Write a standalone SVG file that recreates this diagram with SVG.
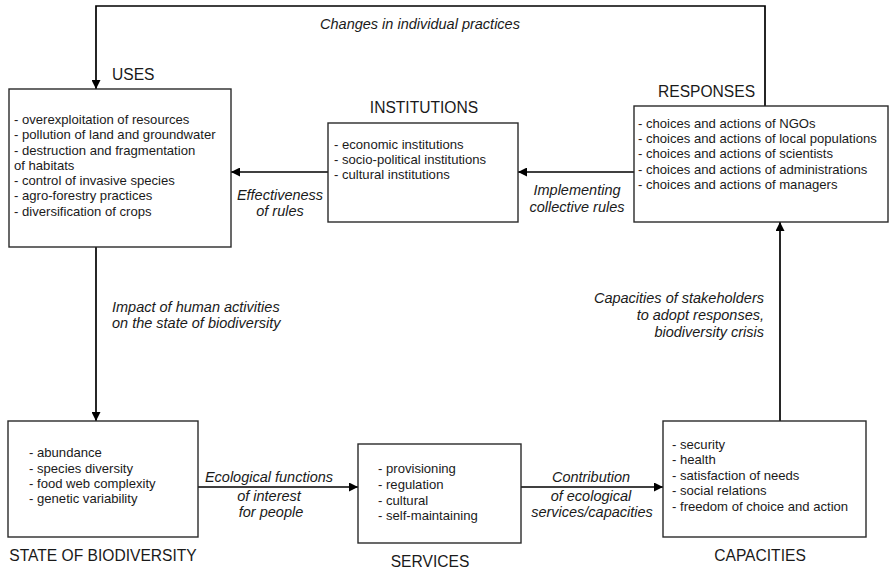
<svg xmlns="http://www.w3.org/2000/svg" width="889" height="571" viewBox="0 0 889 571">
  <style>
    .box { fill: #ffffff; stroke: #2a2a2a; stroke-width: 1.4; }
    .title { font-family: "Liberation Sans", Arial, sans-serif; font-size: 15.6px; fill: #1a1a1a; }
    .item { font-family: "Liberation Sans", Arial, sans-serif; font-size: 13.1px; fill: #1a1a1a; }
    .lbl { font-family: "Liberation Sans", Arial, sans-serif; font-size: 14.5px; font-style: italic; fill: #1a1a1a; }
    .link { fill: none; stroke: #000000; stroke-width: 1.7; marker-end: url(#head); }
  </style>
  <defs>
    <marker id="head" viewBox="0 0 10 10" refX="10" refY="5" markerUnits="userSpaceOnUse" markerWidth="9" markerHeight="9" orient="auto">
      <path d="M0,0 L10,5 L0,10 Z" fill="#000000"/>
    </marker>
  </defs>

  <!-- connectors -->
  <g id="connectors">
    <path class="link" d="M765,106 V6 H96 V89"/>
    <path class="link" d="M328,172 H231"/>
    <path class="link" d="M634,172 H518"/>
    <path class="link" d="M96,247 V421"/>
    <path class="link" d="M198,487 H358"/>
    <path class="link" d="M521,487 H663"/>
    <path class="link" d="M780,421 V222"/>
    <text class="lbl" x="420" y="29" text-anchor="middle">Changes in individual practices</text>
    <text class="lbl" x="280" y="200" text-anchor="middle">Effectiveness</text>
    <text class="lbl" x="280" y="216" text-anchor="middle">of rules</text>
    <text class="lbl" x="577" y="195" text-anchor="middle">Implementing</text>
    <text class="lbl" x="577" y="212" text-anchor="middle">collective rules</text>
    <text class="lbl" x="112" y="312">Impact of human activities</text>
    <text class="lbl" x="112" y="328">on the state of biodiversity</text>
    <text class="lbl" x="764" y="303" text-anchor="end">Capacities of stakeholders</text>
    <text class="lbl" x="764" y="320" text-anchor="end">to adopt responses,</text>
    <text class="lbl" x="764" y="337" text-anchor="end">biodiversity crisis</text>
    <text class="lbl" x="269" y="482" text-anchor="middle">Ecological functions</text>
    <text class="lbl" x="269" y="501" text-anchor="middle">of interest</text>
    <text class="lbl" x="271" y="517" text-anchor="middle">for people</text>
    <text class="lbl" x="591" y="482" text-anchor="middle">Contribution</text>
    <text class="lbl" x="591" y="501" text-anchor="middle">of ecological</text>
    <text class="lbl" x="592" y="517" text-anchor="middle">services/capacities</text>
  </g>

  <!-- USES -->
  <g id="uses">
    <text class="title" x="112" y="80">USES</text>
    <rect class="box" x="9" y="89" width="222" height="158"/>
    <text class="item" x="14" y="124">- overexploitation of resources</text>
    <text class="item" x="14" y="139">- pollution of land and groundwater</text>
    <text class="item" x="14" y="155">- destruction and fragmentation</text>
    <text class="item" x="14" y="170">of habitats</text>
    <text class="item" x="14" y="185">- control of invasive species</text>
    <text class="item" x="14" y="200">- agro-forestry practices</text>
    <text class="item" x="14" y="216">- diversification of crops</text>
  </g>

  <!-- INSTITUTIONS -->
  <g id="institutions">
    <text class="title" x="424" y="113" text-anchor="middle">INSTITUTIONS</text>
    <rect class="box" x="328" y="123" width="190" height="99"/>
    <text class="item" x="334" y="149">- economic institutions</text>
    <text class="item" x="334" y="164">- socio-political institutions</text>
    <text class="item" x="334" y="179">- cultural institutions</text>
  </g>

  <!-- RESPONSES -->
  <g id="responses">
    <text class="title" x="658" y="97">RESPONSES</text>
    <rect class="box" x="634" y="106" width="254" height="116"/>
    <text class="item" x="638" y="128">- choices and actions of NGOs</text>
    <text class="item" x="638" y="143">- choices and actions of local populations</text>
    <text class="item" x="638" y="158">- choices and actions of scientists</text>
    <text class="item" x="638" y="174">- choices and actions of administrations</text>
    <text class="item" x="638" y="189">- choices and actions of managers</text>
  </g>

  <!-- STATE OF BIODIVERSITY -->
  <g id="state">
    <rect class="box" x="8" y="421" width="190" height="116"/>
    <text class="item" x="29" y="457">- abundance</text>
    <text class="item" x="29" y="473">- species diversity</text>
    <text class="item" x="29" y="488">- food web complexity</text>
    <text class="item" x="29" y="503">- genetic variability</text>
    <text class="title" x="103" y="561" text-anchor="middle">STATE OF BIODIVERSITY</text>
  </g>

  <!-- SERVICES -->
  <g id="services">
    <rect class="box" x="358" y="444" width="163" height="99"/>
    <text class="item" x="378" y="473">- provisioning</text>
    <text class="item" x="378" y="489">- regulation</text>
    <text class="item" x="378" y="505">- cultural</text>
    <text class="item" x="378" y="520">- self-maintaining</text>
    <text class="title" x="430" y="567" text-anchor="middle">SERVICES</text>
  </g>

  <!-- CAPACITIES -->
  <g id="capacities">
    <rect class="box" x="663" y="421" width="203" height="116"/>
    <text class="item" x="672" y="449">- security</text>
    <text class="item" x="672" y="464">- health</text>
    <text class="item" x="672" y="480">- satisfaction of needs</text>
    <text class="item" x="672" y="495">- social relations</text>
    <text class="item" x="672" y="511">- freedom of choice and action</text>
    <text class="title" x="760" y="561" text-anchor="middle">CAPACITIES</text>
  </g>
</svg>
